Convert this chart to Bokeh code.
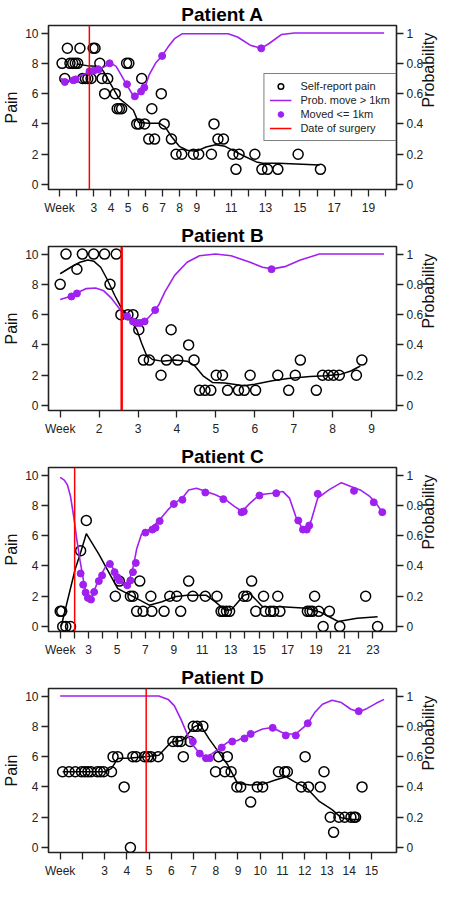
import math
from bokeh.plotting import figure
from bokeh.models import Range1d, LinearAxis, FixedTicker, Legend, LegendItem
from bokeh.layouts import column
from bokeh.embed import file_html
from bokeh.resources import INLINE

FONT = "Liberation Sans"
PURPLE = "#A020F0"
INK = "#222222"

pain_ticks = [0, 2, 4, 6, 8, 10]
prob_ticks = [0, 0.2, 0.4, 0.6, 0.8, 1.0]
prob_tick_labels = ["0", "0.2", "0.4", "0.6", "0.8", "1"]

# ---------------- Patient A ----------------
a_pain_week = [1.15, 1.31, 1.46, 1.61, 1.77, 1.92, 2.06, 2.19, 2.34, 2.51, 2.65, 2.84, 2.96, 3.07, 3.35,
               3.48, 3.63, 3.81, 4.25, 4.36, 4.49, 4.62, 4.91, 5.04, 5.50, 5.64, 5.79, 5.96, 6.20, 6.38,
               6.54, 6.93, 7.10, 7.52, 7.79, 8.12, 8.80, 9.11, 9.85, 10.00, 10.23, 10.55, 11.10, 11.28,
               11.46, 12.38, 12.79, 13.12, 13.72, 14.90, 16.20]
a_pain = [8, 7, 9, 8, 8, 8, 8, 9, 7, 7, 7, 7, 9, 9, 8, 7, 6, 7, 6, 5, 5, 5, 8, 8, 4, 4, 7, 4, 3, 5,
          3, 6, 4, 3, 2, 2, 2, 2, 2, 4, 3, 3, 2, 1, 2, 2, 1, 1, 1, 2, 1]
a_fit_week = [2.0, 2.6, 3.35, 3.6, 3.85, 4.1, 4.45, 4.9, 5.3, 5.6, 6.2, 6.8, 7.15, 7.52, 7.98, 8.44,
              8.99, 9.54, 10.09, 10.64, 11.19, 11.74, 12.47, 12.84, 13.76, 16.15]
a_fit = [7.95, 7.85, 7.8, 7.4, 6.9, 6.4, 5.7, 5.3, 4.9, 4.1, 4.05, 4.05, 3.81, 3.17, 2.52, 2.26,
         2.2, 2.48, 2.63, 2.52, 2.2, 1.88, 1.49, 1.4, 1.4, 1.29]
a_prob_week = [1.07, 1.37, 1.83, 2.38, 2.93, 3.29, 3.66, 3.99, 4.30, 4.58, 4.95, 5.22, 5.41, 5.68,
               5.96, 6.23, 6.60, 6.97, 7.33, 7.70, 8.16, 10.82, 11.37, 12.11, 12.75, 13.21, 13.94,
               14.68, 19.91]
a_prob = [0.70, 0.683, 0.694, 0.726, 0.748, 0.759, 0.780, 0.802, 0.780, 0.726, 0.651, 0.601, 0.586,
          0.601, 0.636, 0.726, 0.802, 0.849, 0.909, 0.963, 0.996, 0.996, 0.974, 0.920, 0.899, 0.931,
          0.991, 1.0, 1.0]
a_moved_week = [1.31, 1.81, 1.94, 2.75, 3.0, 3.27, 3.92, 4.93, 5.39, 5.75, 5.94, 6.98, 12.75]
a_moved_prob = [0.677, 0.688, 0.694, 0.748, 0.752, 0.759, 0.80, 0.662, 0.582, 0.614, 0.64, 0.849, 0.899]
a_surgery = 2.74
a_ticks = list(range(1, 21))
a_tick_labels = ["Week", "", "3", "4", "5", "6", "7", "8", "9", "", "11", "", "13", "", "15", "",
                 "17", "", "19", ""]

# ---------------- Patient B ----------------
b_pain_week = [1.00, 1.15, 1.43, 1.57, 1.86, 2.14, 2.28, 2.44, 2.56, 2.74, 2.87, 3.02, 3.14, 3.29,
               3.59, 3.73, 3.85, 4.02, 4.30, 4.44, 4.58, 4.72, 4.87, 5.01, 5.17, 5.30, 5.58, 5.73,
               5.88, 6.02, 6.59, 6.87, 7.04, 7.17, 7.58, 7.74, 7.89, 8.02, 8.17, 8.61, 8.75]
b_pain = [8, 10, 9, 10, 10, 10, 8, 10, 6, 6, 6, 5, 3, 3, 2, 3, 5, 3, 4, 3, 1, 1, 1, 2, 2, 1, 1, 1,
          2, 1, 2, 1, 2, 3, 1, 2, 2, 2, 2, 2, 3]
b_fit_week = [1.00, 1.27, 1.51, 1.71, 1.87, 2.04, 2.20, 2.40, 2.60, 2.80, 2.97, 3.09, 3.21, 3.37,
              3.61, 3.94, 4.26, 4.46, 4.67, 4.91, 5.23, 5.72, 6.00, 6.45, 6.85, 7.42, 7.82, 8.22,
              8.47, 8.71]
b_fit = [8.70, 9.13, 9.46, 9.61, 9.52, 9.13, 8.37, 7.28, 6.30, 5.65, 5.00, 4.13, 3.37, 3.04, 2.93,
         3.00, 2.93, 2.61, 1.96, 1.52, 1.48, 1.30, 1.41, 1.63, 1.78, 1.91, 1.96, 2.07, 2.28, 2.61]
b_prob_week = [1.00, 1.27, 1.43, 1.67, 1.91, 2.12, 2.32, 2.52, 2.68, 2.89, 3.05, 3.21, 3.37, 3.53,
               3.69, 3.94, 4.26, 4.58, 4.99, 5.39, 5.88, 6.20, 6.45, 6.77, 7.17, 7.66, 9.32]
b_prob = [0.70, 0.722, 0.743, 0.772, 0.776, 0.757, 0.707, 0.641, 0.587, 0.554, 0.543, 0.565, 0.609,
          0.663, 0.750, 0.859, 0.946, 0.989, 1.0, 0.989, 0.946, 0.913, 0.902, 0.917, 0.961, 1.0, 1.0]
b_moved_week = [1.29, 1.43, 2.72, 2.87, 2.97, 3.05, 3.17, 3.44, 6.43]
b_moved_prob = [0.72, 0.74, 0.59, 0.555, 0.545, 0.545, 0.555, 0.63, 0.90]
b_surgery = 2.58
b_ticks = list(range(1, 10))
b_tick_labels = ["Week", "2", "3", "4", "5", "6", "7", "8", "9"]

# ---------------- Patient C ----------------
c_pain_week = [1.00, 1.11, 1.18, 1.40, 1.73, 2.44, 2.84, 4.88, 5.16, 5.94, 6.12, 6.38, 6.60, 6.83,
               7.38, 7.45, 8.31, 8.71, 9.20, 9.48, 10.04, 10.33, 11.21, 12.03, 12.32, 12.48, 12.70,
               12.92, 13.92, 14.14, 14.47, 14.76, 15.31, 15.42, 15.80, 16.02, 16.31, 16.46, 18.39,
               18.57, 18.74, 18.90, 19.19, 19.50, 19.94, 20.67, 22.49, 23.33]
c_pain = [1, 1, 0, 0, 0, 5, 7, 2, 3, 2, 2, 1, 3, 1, 2, 1, 1, 2, 2, 1, 3, 2, 2, 2, 1, 1, 1, 1, 2, 2,
          3, 1, 2, 1, 1, 1, 2, 1, 1, 1, 1, 2, 1, 0, 1, 0, 2, 0]
c_fit_week = [1.07, 2.06, 2.44, 2.84, 3.72, 5.05, 5.94, 7.27, 8.16, 9.04, 9.93, 11.26, 11.92, 12.59,
              13.03, 13.92, 14.36, 15.24, 16.57, 18.35, 19.23, 20.56, 21.89, 23.33]
c_fit = [0.0, 3.80, 4.89, 6.13, 4.78, 2.50, 2.07, 1.41, 1.63, 1.96, 2.07, 2.07, 1.63, 1.09, 1.09,
         2.07, 2.17, 1.30, 1.30, 1.20, 0.98, 0.33, 0.54, 0.65]
c_prob_week = [1.00, 1.29, 1.51, 1.73, 1.95, 2.17, 2.40, 2.62, 2.84, 3.06, 3.28, 3.72, 4.17, 4.50,
               4.83, 5.16, 5.50, 5.83, 6.16, 6.38, 6.72, 7.27, 7.93, 8.60, 9.04, 9.60, 10.04, 10.59,
               11.26, 11.92, 12.59, 13.25, 13.80, 14.36, 15.02, 15.91, 16.68, 17.13, 17.57, 18.01,
               18.46, 18.68, 19.12, 19.90, 20.78, 21.45, 22.11, 22.78, 23.22, 23.66]
c_prob = [0.985, 0.967, 0.935, 0.859, 0.728, 0.576, 0.435, 0.315, 0.207, 0.174, 0.207, 0.315, 0.391,
          0.413, 0.370, 0.315, 0.272, 0.293, 0.402, 0.511, 0.609, 0.641, 0.696, 0.772, 0.815, 0.848,
          0.902, 0.913, 0.891, 0.870, 0.841, 0.793, 0.761, 0.815, 0.870, 0.880, 0.891, 0.848, 0.728,
          0.652, 0.652, 0.707, 0.848, 0.902, 0.950, 0.924, 0.902, 0.859, 0.815, 0.754]
c_moved_week = [2.44, 2.62, 2.79, 2.95, 3.17, 3.39, 3.72, 3.95, 4.50, 4.83, 5.01, 5.16, 5.72, 5.94,
                6.12, 6.32, 7.00, 7.49, 7.71, 8.00, 9.00, 9.60, 11.21, 12.48, 13.76, 13.92, 15.02,
                16.20, 17.75, 18.08, 18.35, 18.52, 19.12, 21.67, 23.06, 23.66]
c_moved_prob = [0.35, 0.276, 0.224, 0.189, 0.178, 0.228, 0.30, 0.337, 0.413, 0.359, 0.326, 0.304,
                0.272, 0.304, 0.359, 0.42, 0.62, 0.64, 0.652, 0.696, 0.809, 0.837, 0.885, 0.841,
                0.754, 0.76, 0.865, 0.88, 0.70, 0.64, 0.64, 0.667, 0.876, 0.896, 0.82, 0.755]
c_surgery = 2.02
c_ticks = list(range(1, 24))
c_tick_labels = ["Week", "", "3", "", "5", "", "7", "", "9", "", "11", "", "13", "", "15", "", "17",
                 "", "19", "", "21", "", "23"]

# ---------------- Patient D ----------------
d_pain_week = [1.11, 1.40, 1.68, 1.96, 2.11, 2.25, 2.39, 2.67, 2.81, 2.96, 3.31, 3.38, 3.59, 3.88,
               4.16, 4.27, 4.42, 4.80, 4.94, 5.08, 5.41, 6.07, 6.29, 6.43, 6.54, 6.85, 6.99, 7.16,
               7.42, 7.99, 8.13, 8.41, 8.52, 8.69, 8.95, 9.12, 9.57, 9.87, 10.11, 10.82, 11.10,
               11.22, 11.85, 12.02, 12.17, 12.70, 12.87, 13.15, 13.30, 13.54, 13.80, 14.08, 14.22,
               14.29, 14.58]
d_pain = [5, 5, 5, 5, 5, 5, 5, 5, 5, 5, 5, 6, 6, 4, 0, 6, 6, 6, 6, 6, 6, 7, 7, 7, 6, 7, 8, 8, 8, 5,
          6, 5, 6, 5, 4, 4, 3, 4, 4, 5, 5, 5, 4, 6, 4, 4, 5, 2, 1, 2, 2, 2, 2, 2, 4]
d_fit_week = [1.11, 3.03, 3.31, 3.59, 4.16, 4.73, 5.44, 6.00, 6.50, 6.99, 7.28, 7.70, 8.13, 8.55,
              8.98, 9.54, 10.11, 10.68, 11.17, 11.53, 12.10, 12.66, 13.23, 13.65, 14.08, 14.50]
d_fit = [5.0, 5.0, 5.22, 5.87, 5.91, 5.98, 6.09, 6.96, 7.07, 7.93, 8.15, 7.17, 6.30, 5.43, 4.24,
         4.13, 4.17, 4.46, 4.67, 4.35, 3.91, 3.04, 2.50, 1.96, 1.85, 1.85]
d_prob_week = [1.00, 5.44, 5.86, 6.14, 6.43, 6.71, 6.92, 7.28, 7.56, 7.84, 8.13, 8.55, 8.98, 9.40,
               9.69, 10.11, 10.54, 10.96, 11.25, 11.60, 11.95, 12.17, 12.45, 12.80, 13.23, 13.65,
               14.08, 14.43, 14.79, 15.21, 15.57]
d_prob = [1.0, 1.0, 0.978, 0.935, 0.848, 0.750, 0.685, 0.620, 0.598, 0.620, 0.652, 0.696, 0.707,
          0.739, 0.757, 0.783, 0.793, 0.761, 0.750, 0.750, 0.793, 0.826, 0.891, 0.946, 0.972, 0.957,
          0.913, 0.896, 0.917, 0.952, 0.978]
d_moved_week = [6.97, 7.28, 7.56, 7.73, 8.27, 8.74, 9.29, 9.57, 10.56, 11.15, 11.60, 12.14, 14.43]
d_moved_prob = [0.70, 0.62, 0.59, 0.59, 0.66, 0.70, 0.72, 0.75, 0.79, 0.74, 0.74, 0.82, 0.90]
d_surgery = 4.87
d_ticks = list(range(1, 16))
d_tick_labels = ["Week", "", "3", "4", "5", "6", "7", "8", "9", "10", "11", "12", "13", "14", "15"]


def style_axis(ax):
    ax.axis_line_color = None
    ax.major_tick_line_color = INK
    ax.major_tick_line_width = 1.3
    ax.major_tick_in = 0
    ax.major_tick_out = 7
    ax.minor_tick_line_color = None
    ax.major_label_text_font = FONT
    ax.major_label_text_font_size = "12px"
    ax.major_label_text_color = INK
    ax.major_label_standoff = 3
    ax.axis_label_text_font = FONT
    ax.axis_label_text_font_size = "16px"
    ax.axis_label_text_font_style = "normal"
    ax.axis_label_text_color = "#111111"
    ax.axis_label_standoff = 2


def make_panel(title, pw, pv, fw, fv, qw, qv, mw, mv, surgery, ticks, tick_labels, x0, x1,
               legend=False, red_width=1.5):
    p = figure(width=448, height=221, output_backend="svg", toolbar_location=None,
               x_range=Range1d(x0, x1), y_range=Range1d(-0.33, 10.5),
               x_axis_type=None, y_axis_type=None,
               min_border_left=0, min_border_right=0, min_border_top=23, min_border_bottom=32)
    p.extra_y_ranges = {"prob": Range1d(-0.033, 1.05)}
    p.outline_line_color = INK
    p.outline_line_width = 1.6
    p.background_fill_color = "white"
    p.border_fill_color = "white"
    p.title.text = title
    p.title.align = "center"
    p.title.text_font = FONT
    p.title.text_font_size = "19px"
    p.title.text_font_style = "bold"
    p.title.text_color = "black"
    p.title.standoff = 2

    xa = LinearAxis(ticker=FixedTicker(ticks=ticks),
                    major_label_overrides=dict(zip(ticks, tick_labels)))
    style_axis(xa)
    xa.major_label_standoff = 4
    p.add_layout(xa, "below")

    ya = LinearAxis(ticker=FixedTicker(ticks=pain_ticks), axis_label="Pain")
    style_axis(ya)
    p.add_layout(ya, "left")

    ra = LinearAxis(y_range_name="prob", ticker=FixedTicker(ticks=prob_ticks),
                    major_label_overrides=dict(zip(prob_ticks, prob_tick_labels)),
                    axis_label="Probability")
    style_axis(ra)
    if "axis_label_orientation" in ra.properties():
        ra.axis_label_orientation = math.pi / 2
    p.add_layout(ra, "right")

    circ = p.scatter(pw, pv, marker="circle", size=10, fill_color=None, line_color="black",
                     line_width=1.5)
    fit = p.line(fw, fv, line_color="black", line_width=1.5)
    prob = p.line(qw, qv, y_range_name="prob", line_color=PURPLE, line_width=1.6)
    moved = p.scatter(mw, mv, y_range_name="prob", marker="circle", size=7, fill_color=PURPLE,
                      line_color=PURPLE)
    surg = p.segment(x0=[surgery], y0=[p.y_range.start], x1=[surgery], y1=[p.y_range.end],
                     line_color="red", line_width=red_width)

    if legend:
        lg = Legend(items=[
            LegendItem(label="Self-report pain", renderers=[circ]),
            LegendItem(label="Prob. move > 1km", renderers=[prob]),
            LegendItem(label="Moved <= 1km", renderers=[moved]),
            LegendItem(label="Date of surgery", renderers=[surg]),
        ], location="center_right")
        lg.label_text_font = FONT
        lg.label_text_font_size = "11px"
        lg.label_text_color = INK
        lg.glyph_width = 22
        lg.glyph_height = 14
        lg.label_height = 14
        lg.label_standoff = 9
        lg.spacing = 0
        lg.padding = 5
        lg.margin = 0
        lg.border_line_color = "black"
        lg.border_line_width = 1.2
        lg.background_fill_alpha = 1
        p.add_layout(lg)
    return p


pa = make_panel("Patient A", a_pain_week, a_pain, a_fit_week, a_fit, a_prob_week, a_prob,
                a_moved_week, a_moved_prob, a_surgery, a_ticks, a_tick_labels, 0.36, 20.63,
                legend=True)
pb = make_panel("Patient B", b_pain_week, b_pain, b_fit_week, b_fit, b_prob_week, b_prob,
                b_moved_week, b_moved_prob, b_surgery, b_ticks, b_tick_labels, 0.70, 9.64,
                red_width=2.5)
pc = make_panel("Patient C", c_pain_week, c_pain, c_fit_week, c_fit, c_prob_week, c_prob,
                c_moved_week, c_moved_prob, c_surgery, c_ticks, c_tick_labels, 0.18, 24.66)
pd_ = make_panel("Patient D", d_pain_week, d_pain, d_fit_week, d_fit, d_prob_week, d_prob,
                 d_moved_week, d_moved_prob, d_surgery, d_ticks, d_tick_labels, 0.476, 16.13)

layout = column(pa, pb, pc, pd_, spacing=0)
open("out.html", "w").write(file_html(layout, INLINE))
